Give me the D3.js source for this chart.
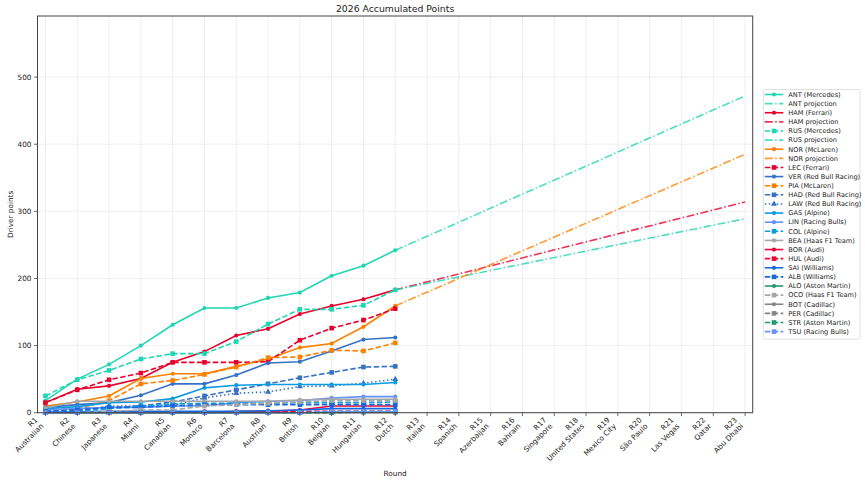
<!DOCTYPE html>
<html>
<head>
<meta charset="utf-8">
<script src="https://cdn.jsdelivr.net/npm/d3@7"></script>
<style>
  body { margin: 0; background: #fff; }
  text { font-family: "DejaVu Sans", sans-serif; fill: #222; }
</style>
</head>
<body>
<div id="chart"></div>
<script>
// ---------------- data ----------------
const rounds = ["R1","R2","R3","R4","R5","R6","R7","R8","R9","R10","R11","R12",
  "R13","R14","R15","R16","R17","R18","R19","R20","R21","R22","R23"];
const races = ["Australian","Chinese","Japanese","Miami","Canadian","Monaco","Barcelona",
  "Austrian","British","Belgian","Hungarian","Dutch","Italian","Spanish","Azerbaijan",
  "Bahrain","Singapore","United States","Mexico City","São Paulo","Las Vegas","Qatar","Abu Dhabi"];
const yTicks = [0, 100, 200, 300, 400, 500];

// accumulated points, R1..R12
const ANT = [18, 50, 72, 100, 131, 156, 156, 171, 179, 204, 219, 242];
const HAM = [15, 35, 40, 51, 75, 91, 115, 125, 147, 159, 169, 183];
const RUS = [25, 49, 63, 80, 88, 88, 106, 132, 154, 154, 160, 183];
const NOR = [10, 16, 25, 51, 58, 58, 69, 80, 97, 103, 128, 159];
const LEC = [15, 34, 49, 59, 75, 75, 75, 76, 108, 126, 138, 155];
const VER = [8, 12, 15, 26, 43, 43, 56, 74, 76, 92, 109, 112];
const PIA = [0, 6, 18, 43, 48, 57, 68, 82, 83, 93, 92, 104];
const HAD = [4, 6, 8, 10, 16, 25, 34, 43, 52, 60, 68, 69];
const LAW = [0, 2, 10, 10, 11, 22, 29, 31, 39, 40, 44, 50];
const GAS = [6, 9, 15, 16, 21, 37, 41, 42, 42, 42, 42, 45];
const LIN = [4, 6, 8, 8, 10, 10, 15, 17, 18, 22, 24, 24];
const COL = [0, 2, 6, 10, 13, 14, 14, 14, 15, 15, 15, 16];
const BEA = [7, 17, 17, 17, 17, 17, 17, 17, 19, 20, 20, 20];
const BOR = [0, 0, 0, 0, 0, 0, 2, 2, 4, 10, 10, 10];
const HUL = [0, 0, 0, 0, 1, 1, 1, 1, 2, 2, 2, 2];
const SAI = [1, 1, 2, 2, 2, 2, 2, 3, 4, 6, 6, 6];
const ALB = [2, 4, 8, 8, 10, 12, 12, 12, 12, 12, 12, 12];
const ALO = [0, 0, 0, 0, 0, 0, 0, 0, 0, 1, 1, 1];
const OCO = [0, 0, 2, 4, 4, 10, 12, 14, 16, 18, 18, 18];
const BOT = [0, 0, 0, 0, 0, 0, 0, 0, 0, 0, 0, 0];
const PER = [0, 0, 0, 0, 0, 0, 0, 0, 0, 0, 1, 1];
const STR = [0, 0, 0, 0, 0, 0, 0, 0, 0, 0, 1, 1];
const TSU = [0, 0, 0, 0, 0, 0, 0, 0, 0, 2, 2, 2];

// projected totals at R23 (line drawn from the last scored round)
const projections = { ANT: 472, HAM: 314, RUS: 289, NOR: 385 };

const drivers = [
  ["ANT", "Mercedes", ANT], ["HAM", "Ferrari", HAM], ["RUS", "Mercedes", RUS],
  ["NOR", "McLaren", NOR], ["LEC", "Ferrari", LEC], ["VER", "Red Bull Racing", VER],
  ["PIA", "McLaren", PIA], ["HAD", "Red Bull Racing", HAD], ["LAW", "Red Bull Racing", LAW],
  ["GAS", "Alpine", GAS], ["LIN", "Racing Bulls", LIN], ["COL", "Alpine", COL],
  ["BEA", "Haas F1 Team", BEA], ["BOR", "Audi", BOR], ["HUL", "Audi", HUL],
  ["SAI", "Williams", SAI], ["ALB", "Williams", ALB], ["ALO", "Aston Martin", ALO],
  ["OCO", "Haas F1 Team", OCO], ["BOT", "Cadillac", BOT], ["PER", "Cadillac", PER],
  ["STR", "Aston Martin", STR], ["TSU", "Racing Bulls", TSU]
];

// ---------------- styles ----------------
const teamColor = {
  "Mercedes": "#1fd6b4", "Ferrari": "#e8002d", "McLaren": "#ff8000",
  "Red Bull Racing": "#3671c6", "Alpine": "#0a9be0", "Racing Bulls": "#6692ff",
  "Haas F1 Team": "#a4a6a8", "Audi": "#f0033a", "Williams": "#1868db",
  "Aston Martin": "#229971", "Cadillac": "#858585"
};
// second driver of a team: dashed + square, third: dotted + triangle
const secondDrivers = ["RUS","LEC","PIA","HAD","COL","HUL","ALB","OCO","PER","STR","TSU"];
const thirdDrivers = ["LAW"];
const dashes = { solid: null, dashed: "5.5,2.4", dotted: "1.5,2.5", dashdot: "8,2.4,1.5,2.4" };

const W = 865, H = 483;
const margin = { left: 37.5, right: 112.3, top: 16, bottom: 70.3 };

const svg = d3.select("#chart").append("svg")
  .attr("width", W).attr("height", H);

const x = d3.scaleLinear().domain([-0.25, rounds.length - 1 + 0.24])
  .range([margin.left, W - margin.right]);
const y = d3.scaleLinear().domain([0, 591])
  .range([H - margin.bottom, margin.top]);

//----------------------------------------
// grid
//----------------------------------------
svg.append("g").selectAll("line.vg")
  .data(rounds).enter().append("line")
  .attr("x1", (d, i) => x(i)).attr("x2", (d, i) => x(i))
  .attr("y1", y.range()[0]).attr("y2", y.range()[1])
  .attr("stroke", "#ebebeb").attr("stroke-width", 0.8);
svg.append("g").selectAll("line.hg")
  .data(yTicks).enter().append("line")
  .attr("x1", x.range()[0]).attr("x2", x.range()[1])
  .attr("y1", d => y(d)).attr("y2", d => y(d))
  .attr("stroke", "#ebebeb").attr("stroke-width", 0.8);

//----------------------------------------
// lines
//----------------------------------------
const line = d3.line().x((d, i) => x(i)).y(d => y(d));
const plot = svg.append("g");

function styleOf(code) {
  if (thirdDrivers.includes(code)) return { dash: dashes.dotted, marker: "triangle" };
  if (secondDrivers.includes(code)) return { dash: dashes.dashed, marker: "square" };
  return { dash: dashes.solid, marker: "circle" };
}

function drawMarker(g, shape, cx, cy, color, size) {
  const s = size || 1;
  if (shape === "circle") {
    g.append("circle").attr("cx", cx).attr("cy", cy).attr("r", 2.1 * s).attr("fill", color);
  } else if (shape === "square") {
    g.append("rect").attr("x", cx - 2.3 * s).attr("y", cy - 2.3 * s)
      .attr("width", 4.6 * s).attr("height", 4.6 * s).attr("fill", color);
  } else {
    const sym = d3.symbol().type(d3.symbolTriangle).size(16 * s * s);
    g.append("path").attr("d", sym()).attr("transform", `translate(${cx},${cy})`).attr("fill", color);
  }
}

const legendItems = [];
drivers.forEach(([code, team, pts]) => {
  const color = teamColor[team];
  const st = styleOf(code);
  const g = plot.append("g");
  g.append("path").datum(pts)
    .attr("d", line)
    .attr("fill", "none")
    .attr("stroke", color)
    .attr("stroke-width", 1.6)
    .attr("stroke-dasharray", st.dash);
  pts.forEach((v, i) => drawMarker(g, st.marker, x(i), y(v), color));
  legendItems.push({ label: `${code} (${team})`, color: color, dash: st.dash, marker: st.marker });

  if (projections[code] !== undefined) {
    const last = pts.length - 1;
    g.append("line")
      .attr("x1", x(last)).attr("y1", y(pts[last]))
      .attr("x2", x(rounds.length - 1)).attr("y2", y(projections[code]))
      .attr("stroke", color).attr("stroke-opacity", 0.8)
      .attr("stroke-width", 1.6)
      .attr("stroke-dasharray", dashes.dashdot);
    legendItems.push({ label: `${code} projection`, color: color, dash: dashes.dashdot, marker: null, alpha: 0.8 });
  }
});

//----------------------------------------
// axes frame
//----------------------------------------
svg.append("rect")
  .attr("x", x.range()[0]).attr("y", y.range()[1])
  .attr("width", x.range()[1] - x.range()[0])
  .attr("height", y.range()[0] - y.range()[1])
  .attr("fill", "none").attr("stroke", "#444").attr("stroke-width", 1);

// y ticks
const yAx = svg.append("g");
yTicks.forEach(t => {
  yAx.append("line").attr("x1", x.range()[0] - 3.5).attr("x2", x.range()[0])
    .attr("y1", y(t)).attr("y2", y(t)).attr("stroke", "#444").attr("stroke-width", 0.8);
  yAx.append("text").attr("x", x.range()[0] - 6).attr("y", y(t))
    .attr("dy", "0.35em").attr("text-anchor", "end")
    .attr("font-size", 7.3).text(t);
});

// x ticks, rotated two-line labels
const xAx = svg.append("g");
const axisY = y.range()[0];
rounds.forEach((r, i) => {
  xAx.append("line").attr("x1", x(i)).attr("x2", x(i))
    .attr("y1", axisY).attr("y2", axisY + 3.5).attr("stroke", "#444").attr("stroke-width", 0.8);
  const t = xAx.append("text")
    .attr("transform", `translate(${x(i) - 7.5},${axisY + 7.8}) rotate(-45)`)
    .attr("text-anchor", "end").attr("font-size", 7.3);
  t.append("tspan").attr("x", 0).attr("y", 0).text(r);
  t.append("tspan").attr("x", 0).attr("y", 8.6).text(races[i]);
});

//----------------------------------------
// titles
//----------------------------------------
const cx = (x.range()[0] + x.range()[1]) / 2;
svg.append("text").attr("x", cx).attr("y", 12)
  .attr("text-anchor", "middle").attr("font-size", 9.3).text("2026 Accumulated Points");
svg.append("text").attr("x", cx).attr("y", 476)
  .attr("text-anchor", "middle").attr("font-size", 7.3).text("Round");
svg.append("text")
  .attr("transform", `translate(13,${(y.range()[0] + y.range()[1]) / 2}) rotate(-90)`)
  .attr("text-anchor", "middle").attr("font-size", 7.3).text("Driver points");

//----------------------------------------
// legend
//----------------------------------------
const lg = svg.append("g");
const lx = 763.3, ly = 89.5, rowH = 9.12;
lg.append("rect").attr("x", lx).attr("y", ly)
  .attr("width", 96.7).attr("height", legendItems.length * rowH + 3.5)
  .attr("rx", 2).attr("fill", "#fff").attr("stroke", "#d8d8d8").attr("stroke-width", 0.8);
legendItems.forEach((d, i) => {
  const yy = ly + 5 + i * rowH;
  const g = lg.append("g");
  g.append("line").attr("x1", lx + 1.5).attr("x2", lx + 20)
    .attr("y1", yy).attr("y2", yy)
    .attr("stroke", d.color).attr("stroke-opacity", d.alpha || 1)
    .attr("stroke-width", 1.6).attr("stroke-dasharray", d.dash);
  if (d.marker) drawMarker(g, d.marker, lx + 10.7, yy, d.color);
  g.append("text").attr("x", lx + 25).attr("y", yy).attr("dy", "0.35em")
    .attr("font-size", 6.6).text(d.label);
});
</script>
</body>
</html>
